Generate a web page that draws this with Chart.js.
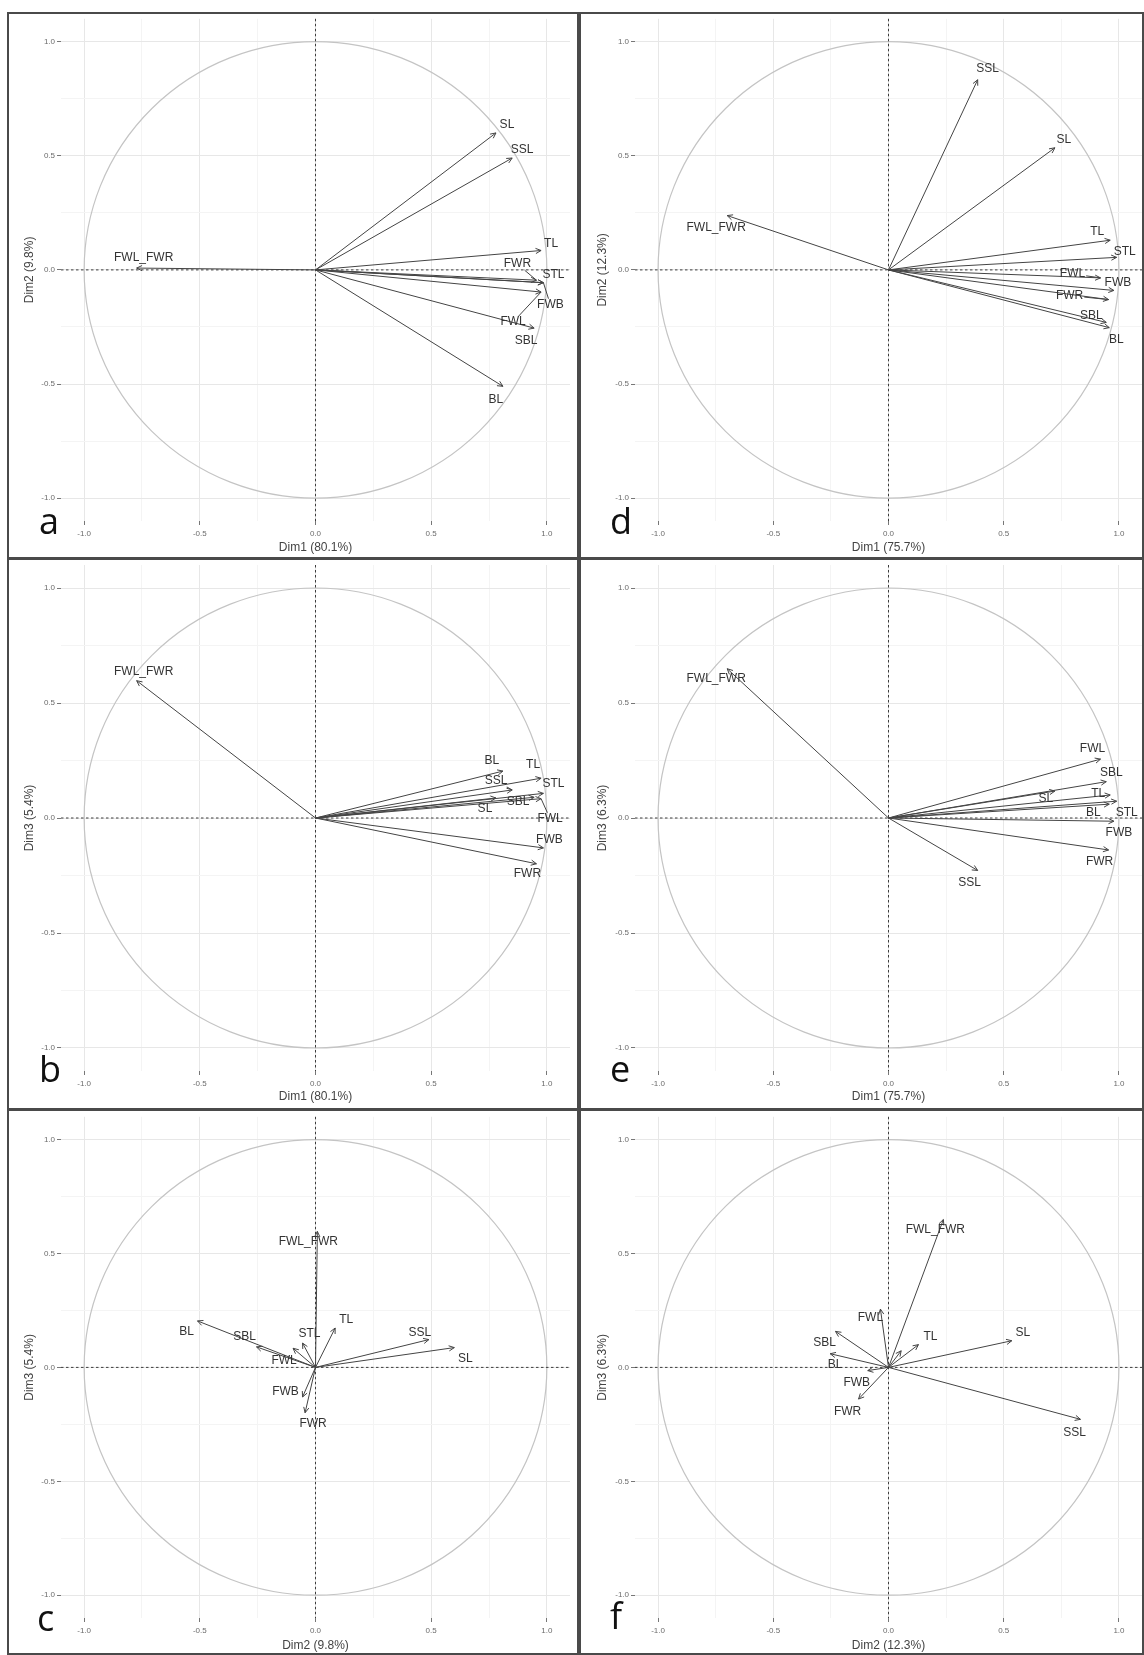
<!DOCTYPE html>
<html>
<head>
<meta charset="utf-8">
<title>PCA variable plots</title>
<script src="https://cdn.jsdelivr.net/npm/chart.js@4.4.1/dist/chart.umd.min.js"></script>
<style>
  html, body { margin: 0; padding: 0; background: #fff; }
  #fig { position: relative; width: 1144px; height: 1655px; overflow: hidden; }
  #fig canvas { position: absolute; }
  .rule { position: absolute; background: #4a4a4a; }
</style>
</head>
<body>
<div id="fig">
  <canvas id="cv-a" width="571" height="544" style="left:8px;top:12px"></canvas>
  <canvas id="cv-b" width="571" height="550" style="left:8px;top:558px"></canvas>
  <canvas id="cv-c" width="571" height="545" style="left:8px;top:1110px"></canvas>
  <canvas id="cv-d" width="563" height="544" style="left:581px;top:12px"></canvas>
  <canvas id="cv-e" width="563" height="550" style="left:581px;top:558px"></canvas>
  <canvas id="cv-f" width="563" height="545" style="left:581px;top:1110px"></canvas>

  <div class="rule" style="left:7px;top:12px;width:1137px;height:2px"></div>
  <div class="rule" style="left:7px;top:12px;width:2px;height:1643px"></div>
  <div class="rule" style="left:1142px;top:12px;width:2px;height:1643px"></div>
  <div class="rule" style="left:7px;top:1653px;width:1137px;height:2px"></div>
  <div class="rule" style="left:577px;top:12px;width:4px;height:1643px"></div>
  <div class="rule" style="left:7px;top:557px;width:1137px;height:3px"></div>
  <div class="rule" style="left:7px;top:1108px;width:1137px;height:3px"></div>
</div>

<script>
// variables (same order in every array below)
const varNames = ['TL', 'STL', 'SL', 'SSL', 'BL', 'SBL', 'FWL', 'FWR', 'FWB', 'FWL_FWR'];

// first data set (panels a, b, c)
const set1Dim1 = [0.975, 0.985, 0.78, 0.85, 0.81, 0.945, 0.975, 0.955, 0.985, -0.773];
const set1Dim2 = [0.085, -0.056, 0.60, 0.49, -0.51, -0.255, -0.097, -0.045, -0.056, 0.008];
const set1Dim3 = [0.173, 0.107, 0.087, 0.122, 0.204, 0.09, 0.084, -0.199, -0.13, 0.597];
const set1Explained = ['80.1', '9.8', '5.4'];

// second data set (panels d, e, f)
const set2Dim1 = [0.962, 0.99, 0.722, 0.387, 0.958, 0.945, 0.92, 0.955, 0.978, -0.70];
const set2Dim2 = [0.13, 0.055, 0.535, 0.833, -0.253, -0.23, -0.035, -0.13, -0.09, 0.238];
const set2Dim3 = [0.10, 0.073, 0.117, -0.228, 0.06, 0.158, 0.256, -0.139, -0.014, 0.649];
const set2Explained = ['75.7', '12.3', '6.3'];

// axis ticks
const tickValues = [-1, -0.5, 0, 0.5, 1];
const tickLabels = ['-1.0', '-0.5', '0.0', '0.5', '1.0'];

Chart.defaults.font.family = '"Liberation Sans", Arial, sans-serif';

function majorIndex(v) {
    return tickValues.findIndex(t => Math.abs(t - v) < 1e-6);
}

function dimTitle(k, pct) {
    return 'Dim' + k + ' (' + pct + '%)';
}

// label nudges in pixels (label centre relative to arrow tip), per panel
const nudges = {
    a: { SL: [11, -8], SSL: [10, -8], TL: [10, -7], FWR: [-19, -16], STL: [10, -8], FWB: [7, 22],
         FWL: [-28, 30], SBL: [-8, 13], BL: [-7, 13], FWL_FWR: [7, -10] },
    b: { FWL_FWR: [7, -9], BL: [-11, -10], TL: [-8, -14], SSL: [-16, -9], STL: [10, -10], SBL: [-16, 4],
         SL: [-11, 11], FWL: [9, 20], FWB: [6, -8], FWR: [-9, 10] },
    c: { FWL_FWR: [-9, 10], BL: [-11, 11], SBL: [-12, -10], FWL: [-9, 12], STL: [7, -9], TL: [11, -8],
         SSL: [-9, -7], SL: [11, 11], FWB: [-17, -5], FWR: [8, 11] },
    d: { SSL: [10, -11], SL: [9, -8], FWL_FWR: [-11, 12], TL: [-13, -9], STL: [8, -6], FWL: [-28, -4],
         FWB: [4, -8], FWR: [-39, -4], SBL: [-15, -7], BL: [7, 12] },
    e: { FWL_FWR: [-11, 10], FWL: [-8, -10], SBL: [5, -9], SL: [-9, 8], TL: [-12, -1], STL: [10, 11],
         BL: [-16, 8], FWB: [5, 11], FWR: [-9, 12], SSL: [-8, 12] },
    f: { FWL_FWR: [-8, 10], FWL: [-10, 9], SBL: [-11, 11], BL: [5, 11], TL: [12, -8], SL: [11, -8],
         SSL: [-6, 13], FWB: [-11, 12], FWR: [-11, 13] }
};

// panel layout: scale sizes, paddings and letter positions relative to each canvas
const panels = [
    { id: 'a', xs: set1Dim1, ys: set1Dim2, xt: dimTitle(1, set1Explained[0]), yt: dimTitle(2, set1Explained[1]),
      yW: 53, xH: 35, padT: 4, padR: 9, titleB: 1, letter: [31, 522] },
    { id: 'b', xs: set1Dim1, ys: set1Dim3, xt: dimTitle(1, set1Explained[0]), yt: dimTitle(3, set1Explained[2]),
      yW: 53, xH: 37, padT: 7, padR: 9, titleB: 4, letter: [31, 524] },
    { id: 'c', xs: set1Dim2, ys: set1Dim3, xt: dimTitle(2, set1Explained[1]), yt: dimTitle(3, set1Explained[2]),
      yW: 53, xH: 37, padT: 4, padR: 9, titleB: 2, letter: [29, 521] },
    { id: 'd', xs: set2Dim1, ys: set2Dim2, xt: dimTitle(1, set2Explained[0]), yt: dimTitle(2, set2Explained[1]),
      yW: 54, xH: 35, padT: 4, padR: 2, titleB: 1, letter: [29, 522] },
    { id: 'e', xs: set2Dim1, ys: set2Dim3, xt: dimTitle(1, set2Explained[0]), yt: dimTitle(3, set2Explained[2]),
      yW: 54, xH: 37, padT: 7, padR: 2, titleB: 4, letter: [29, 524] },
    { id: 'f', xs: set2Dim2, ys: set2Dim3, xt: dimTitle(2, set2Explained[1]), yt: dimTitle(3, set2Explained[2]),
      yW: 54, xH: 37, padT: 4, padR: 2, titleB: 2, letter: [29, 519] }
];

function makeDecor(p) {
    return {
        id: 'pcaDecor',
        beforeDatasetsDraw(chart) {
            const { ctx, chartArea: a, scales: { x, y } } = chart;
            const cx = x.getPixelForValue(0), cy = y.getPixelForValue(0);
            const rx = x.getPixelForValue(1) - cx, ry = cy - y.getPixelForValue(1);
            ctx.save();
            // correlation circle
            ctx.strokeStyle = '#c4c4c4';
            ctx.lineWidth = 1.2;
            ctx.beginPath();
            ctx.ellipse(cx, cy, rx, ry, 0, 0, Math.PI * 2);
            ctx.stroke();
            // dashed zero lines
            ctx.strokeStyle = '#3c3c3c';
            ctx.lineWidth = 1;
            ctx.setLineDash([2.5, 2.5]);
            ctx.beginPath();
            ctx.moveTo(a.left, cy); ctx.lineTo(a.right, cy);
            ctx.moveTo(cx, a.top); ctx.lineTo(cx, a.bottom);
            ctx.stroke();
            ctx.restore();
        },
        afterDatasetsDraw(chart) {
            const ctx = chart.ctx;
            const nud = nudges[p.id];
            ctx.save();
            ctx.strokeStyle = '#444';
            ctx.fillStyle = '#333';
            ctx.lineWidth = 1;
            ctx.font = '12px "Liberation Sans", Arial, sans-serif';
            ctx.textAlign = 'center';
            ctx.textBaseline = 'middle';
            chart.data.datasets.forEach((ds, i) => {
                const pts = chart.getDatasetMeta(i).data;
                const x0 = pts[0].x, y0 = pts[0].y, x1 = pts[1].x, y1 = pts[1].y;
                const ang = Math.atan2(y1 - y0, x1 - x0);
                const len = 6, spread = Math.PI / 7;
                // arrow head
                ctx.beginPath();
                ctx.moveTo(x1 - len * Math.cos(ang - spread), y1 - len * Math.sin(ang - spread));
                ctx.lineTo(x1, y1);
                ctx.lineTo(x1 - len * Math.cos(ang + spread), y1 - len * Math.sin(ang + spread));
                ctx.stroke();

                const n = nud[ds.label];
                if (!n) return;
                const lx = x1 + n[0], ly = y1 + n[1];
                ctx.fillText(ds.label, lx, ly);
                // repel segment for far labels
                if (Math.hypot(n[0], n[1]) > 18) {
                    const hw = ctx.measureText(ds.label).width / 2 + 1, hh = 6;
                    const dx = x1 - lx, dy = y1 - ly;
                    const t = Math.min(dx ? hw / Math.abs(dx) : 1e9, dy ? hh / Math.abs(dy) : 1e9);
                    if (t < 1) {
                        ctx.beginPath();
                        ctx.moveTo(lx + dx * t, ly + dy * t);
                        ctx.lineTo(x1, y1);
                        ctx.stroke();
                    }
                }
            });
            // panel letter
            ctx.font = '36px "Open Sans", sans-serif';
            ctx.fillStyle = '#111';
            ctx.textAlign = 'left';
            ctx.textBaseline = 'alphabetic';
            ctx.fillText(p.id, p.letter[0], p.letter[1]);
            ctx.restore();
        }
    };
}

function axisOptions(title, isX, p) {
    return {
        type: 'linear',
        min: -1.1,
        max: 1.1,
        afterFit: s => { if (isX) s.height = p.xH; else s.width = p.yW; },
        border: { display: false },
        grid: {
            color: c => (c.tick && majorIndex(c.tick.value) >= 0) ? '#e7e7e7' : '#f4f4f4',
            tickColor: c => (c.tick && majorIndex(c.tick.value) >= 0) ? '#777' : 'rgba(0,0,0,0)',
            lineWidth: 1,
            drawTicks: true,
            tickLength: 4
        },
        ticks: {
            stepSize: 0.25,
            includeBounds: false,
            autoSkip: false,
            maxRotation: 0,
            minRotation: 0,
            padding: isX ? 4 : 2,
            color: '#6b6b6b',
            font: { size: 8 },
            callback: v => {
                const k = majorIndex(v);
                return k >= 0 ? tickLabels[k] : '';
            }
        },
        title: {
            display: true,
            text: title,
            color: '#444',
            font: { size: 12 },
            padding: isX ? { top: 0, bottom: p.titleB } : { top: 14, bottom: 0 }
        }
    };
}

function makePanel(p) {
    const datasets = varNames.map((name, i) => ({
        label: name,
        data: [{ x: 0, y: 0 }, { x: p.xs[i], y: p.ys[i] }],
        showLine: true,
        borderColor: '#444',
        borderWidth: 1,
        pointRadius: 0,
        pointHoverRadius: 0
    }));
    new Chart(document.getElementById('cv-' + p.id), {
        type: 'scatter',
        data: { datasets },
        options: {
            responsive: false,
            animation: false,
            devicePixelRatio: 1,
            events: [],
            layout: { padding: { left: 0, right: p.padR, top: p.padT, bottom: 0 } },
            plugins: { legend: { display: false }, tooltip: { enabled: false } },
            scales: {
                x: axisOptions(p.xt, true, p),
                y: axisOptions(p.yt, false, p)
            }
        },
        plugins: [makeDecor(p)]
    });
}

panels.forEach(makePanel);
</script>
</body>
</html>
